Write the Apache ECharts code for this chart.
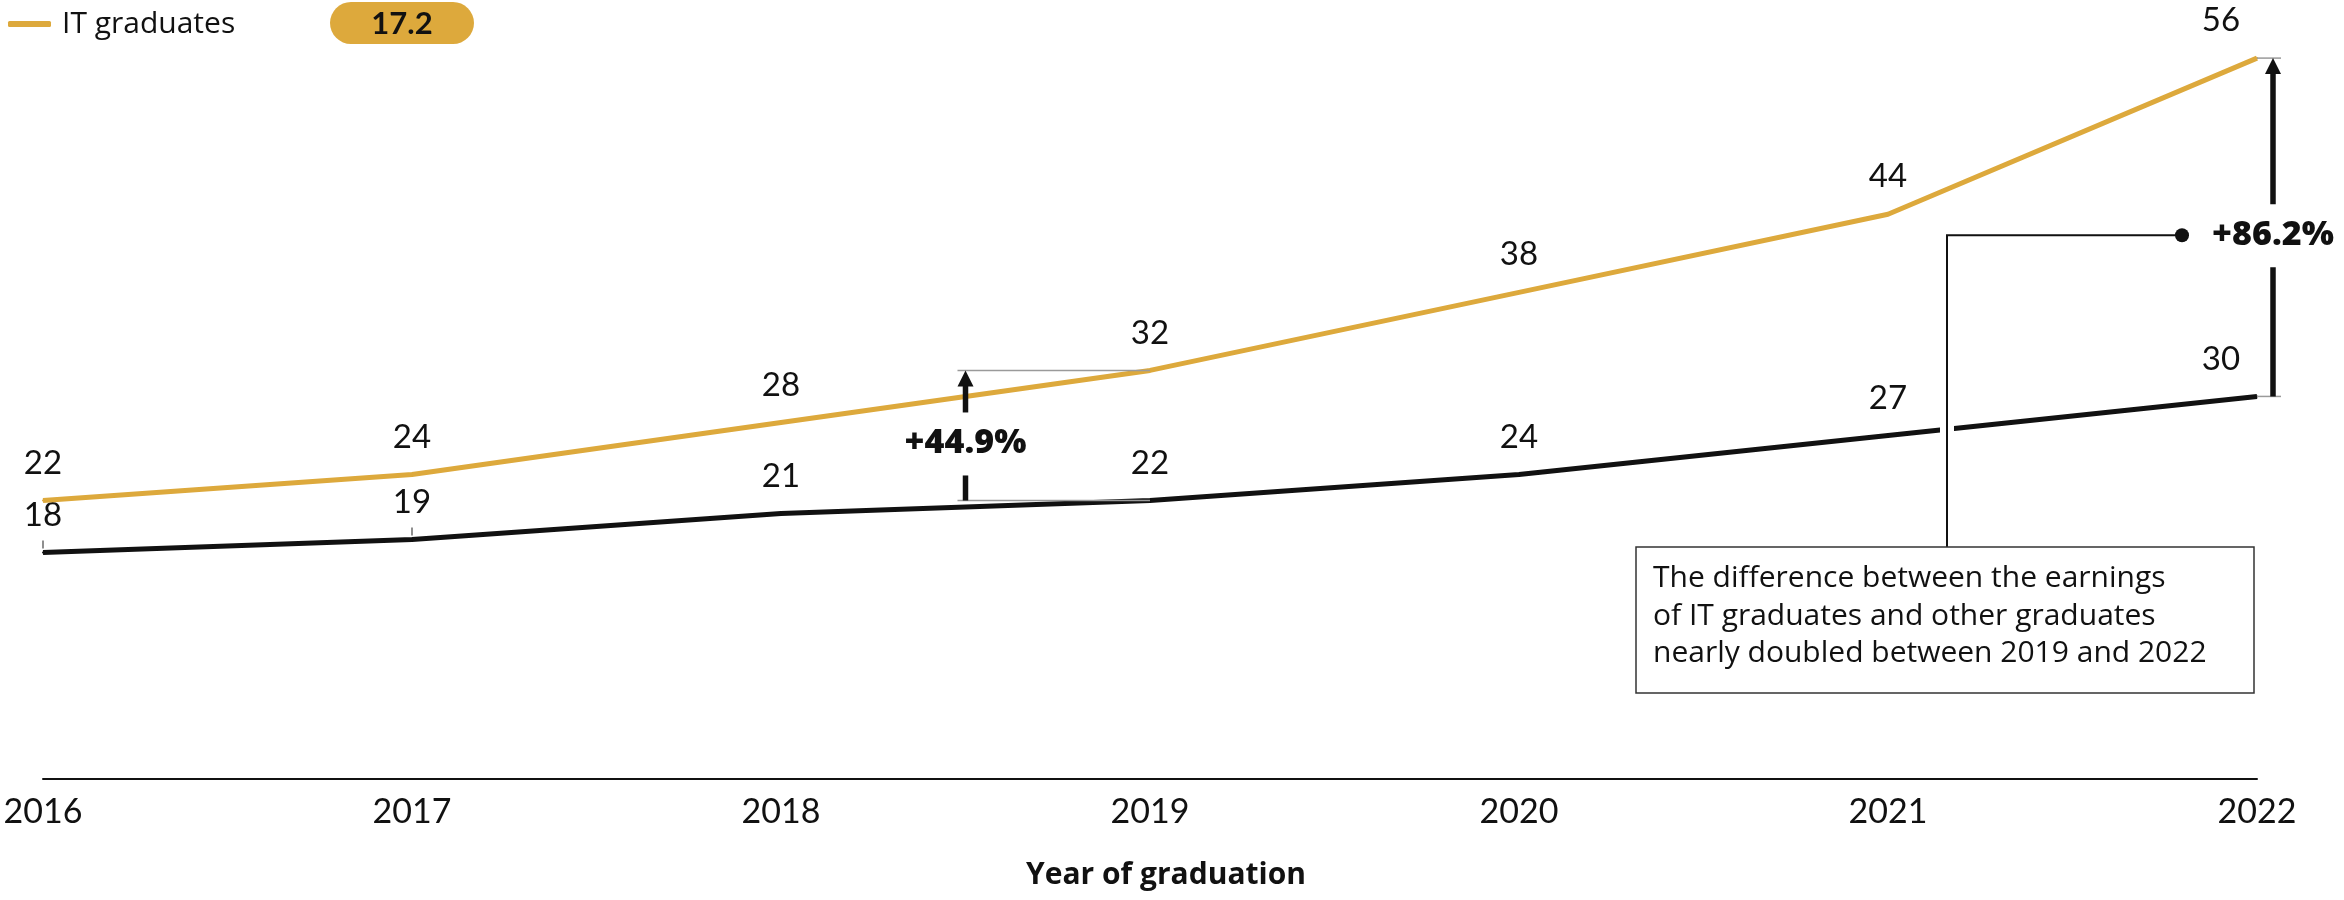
<!DOCTYPE html>
<html>
<head>
<meta charset="utf-8">
<title>Earnings of IT graduates vs other graduates</title>
<script src="https://cdn.jsdelivr.net/npm/echarts@6/dist/echarts.min.js"></script>
<style>
  html, body { margin: 0; padding: 0; background: #ffffff; }
  #chart { width: 2344px; height: 900px; }
</style>
</head>
<body>
<div id="chart"></div>
<script>
// ---- data ----
const years = ['2016', '2017', '2018', '2019', '2020', '2021', '2022'];
const itGraduates = [22, 24, 28, 32, 38, 44, 56];
const otherGraduates = [18, 19, 21, 22, 24, 27, 30];
const legendBadge = '17.2';
const gapLabel2019 = '+44.9%';
const gapLabel2022 = '+86.2%';
const noteLines = [
  'The difference between the earnings',
  'of IT graduates and other graduates',
  'nearly doubled between 2019 and 2022'
];
const axisTitle = 'Year of graduation';

// ---- style ----
const GOLD = '#DDA93C';
const INK = '#111111';
const GREY = '#9a9a9a';
const FONT = 'Lato, "Noto Sans", sans-serif';          // numbers
const TEXT_FONT = '"Open Sans", "Noto Sans", sans-serif'; // words

const chart = echarts.init(document.getElementById('chart'), null, { renderer: 'canvas' });

// the last point's label sits a little to the left, clear of the gap arrow
function seriesData(values) {
  return values.map((v, i) =>
    i === values.length - 1 ? { value: v, label: { offset: [-36, 0] } } : v);
}

const valueLabel = {
  show: true,
  position: 'top',
  distance: 20,
  fontSize: 33,
  fontFamily: FONT,
  color: INK
};

chart.setOption({
  animation: false,
  backgroundColor: '#ffffff',
  textStyle: { fontFamily: FONT },
  grid: { left: 43, right: 87, top: 55.5, bottom: 121, containLabel: false, outerBoundsMode: 'none' },
  legend: {
    data: ['IT graduates'],
    left: 3, top: 4,
    icon: 'roundRect',
    itemWidth: 43, itemHeight: 6,
    selectedMode: false,
    textStyle: { fontSize: 30, color: INK, fontFamily: TEXT_FONT, padding: [0, 0, 0, 6] }
  },
  xAxis: {
    type: 'category',
    data: years,
    boundaryGap: false,
    axisLine: { show: true, lineStyle: { color: INK, width: 2 } },
    axisTick: { show: false },
    axisLabel: { fontSize: 34, color: INK, fontFamily: FONT, margin: 16 },
    splitLine: { show: false },
    name: axisTitle,
    nameLocation: 'middle',
    nameGap: 81,
    nameTextStyle: { fontSize: 30, fontWeight: 'bold', color: INK, fontFamily: TEXT_FONT, padding: [0, 0, 0, 32] }
  },
  yAxis: {
    type: 'value',
    min: 0.6,
    max: 56.2,
    show: false,
    splitLine: { show: false }
  },
  series: [
    {
      name: 'Other graduates',
      type: 'line',
      data: seriesData(otherGraduates),
      symbol: 'circle',
      symbolSize: 2,
      itemStyle: { color: INK },
      lineStyle: { color: INK, width: 5 },
      label: valueLabel,
      silent: true,
      z: 3
    },
    {
      name: 'IT graduates',
      type: 'line',
      data: seriesData(itGraduates),
      symbol: 'circle',
      symbolSize: 2,
      itemStyle: { color: GOLD },
      lineStyle: { color: GOLD, width: 5 },
      label: valueLabel,
      silent: true,
      z: 4
    }
  ]
});

// ---- annotations, placed through the chart's own scales ----
function pt(i, v) {
  return chart.convertToPixel({ xAxisIndex: 0, yAxisIndex: 0 }, [years[i], v]);
}

function gapArrow(x, yTop, yBottom, text, out) {
  const labelY = (yTop + yBottom) / 2 + 8;
  const head = 16, half = 8, shaft = 5.5;
  // head
  out.push({
    type: 'polygon', z: 20, silent: true,
    shape: { points: [[x, yTop], [x - half, yTop + head], [x + half, yTop + head]] },
    style: { fill: INK }
  });
  // upper shaft
  out.push({
    type: 'line', z: 20, silent: true,
    shape: { x1: x, y1: yTop + head - 1, x2: x, y2: labelY - 31 },
    style: { stroke: INK, lineWidth: shaft }
  });
  // lower shaft
  out.push({
    type: 'line', z: 20, silent: true,
    shape: { x1: x, y1: labelY + 32, x2: x, y2: yBottom },
    style: { stroke: INK, lineWidth: shaft }
  });
  out.push({
    type: 'text', z: 20, silent: true,
    x: x, y: labelY,
    style: {
      text: text, fill: INK, font: '800 34px ' + TEXT_FONT,
      align: 'center', verticalAlign: 'middle'
    }
  });
  return labelY;
}

function guide(x1, x2, y, out) {
  out.push({
    type: 'line', z: 6, silent: true,
    shape: { x1: x1, y1: y, x2: x2, y2: y },
    style: { stroke: GREY, lineWidth: 1.5 }
  });
}

function drawAnnotations() {
  const g = [];
  const last = years.length - 1;
  const i19 = years.indexOf('2019');

  // 2019 gap, arrow halfway between 2018 and 2019
  const a = pt(i19 - 1, itGraduates[i19]);
  const b = pt(i19, itGraduates[i19]);
  const c = pt(i19, otherGraduates[i19]);
  const midX = (a[0] + b[0]) / 2;
  guide(midX - 8, b[0], b[1], g);
  guide(midX - 8, c[0], c[1], g);
  gapArrow(midX, b[1], c[1], gapLabel2019, g);

  // 2022 gap, arrow just right of the last points
  const d = pt(last, itGraduates[last]);
  const e = pt(last, otherGraduates[last]);
  const ax = d[0] + 16;
  guide(d[0], ax + 8, d[1], g);
  guide(e[0], ax + 8, e[1], g);
  const calloutY = gapArrow(ax, d[1], e[1], gapLabel2022, g);

  // small leader ticks above the first two points of the lower line
  [0, 1].forEach(i => {
    const p = pt(i, otherGraduates[i]);
    g.push({
      type: 'line', z: 6, silent: true,
      shape: { x1: p[0], y1: p[1] - 12, x2: p[0], y2: p[1] - 4 },
      style: { stroke: '#444', lineWidth: 1.2 }
    });
  });

  // note box with its connector
  const boxLeft = 1636, boxTop = 547, boxRight = d[0] - 3, boxBottom = 693;
  const elbowX = 1947;
  const dotX = 2182;
  g.push({
    type: 'line', z: 8, silent: true,
    shape: { x1: elbowX, y1: calloutY, x2: elbowX, y2: boxTop },
    style: { stroke: '#ffffff', lineWidth: 14 }
  });
  g.push({
    type: 'polyline', z: 9, silent: true,
    shape: { points: [[dotX, calloutY], [elbowX, calloutY], [elbowX, boxTop]] },
    style: { stroke: INK, lineWidth: 2, fill: null }
  });
  g.push({
    type: 'circle', z: 9, silent: true,
    shape: { cx: dotX, cy: calloutY, r: 7 },
    style: { fill: INK }
  });
  g.push({
    type: 'rect', z: 9, silent: true,
    shape: { x: boxLeft, y: boxTop, width: boxRight - boxLeft, height: boxBottom - boxTop },
    style: { fill: '#ffffff', stroke: '#333333', lineWidth: 1.5 }
  });
  g.push({
    type: 'text', z: 10, silent: true,
    x: boxLeft + 17, y: boxTop + 13,
    style: {
      text: noteLines.join('\n'), fill: INK, font: '30px ' + TEXT_FONT,
      lineHeight: 37.5, align: 'left', verticalAlign: 'top'
    }
  });

  // value badge next to the legend
  g.push({
    type: 'group', z: 10, silent: true, x: 330, y: 2,
    children: [
      { type: 'rect', shape: { x: 0, y: 0, width: 144, height: 42, r: 21 }, style: { fill: GOLD } },
      {
        type: 'text', x: 72, y: 22,
        style: {
          text: legendBadge, fill: INK, font: 'bold 31px ' + FONT,
          align: 'center', verticalAlign: 'middle'
        }
      }
    ]
  });

  chart.setOption({ graphic: { elements: g } });
}

drawAnnotations();
</script>
</body>
</html>
